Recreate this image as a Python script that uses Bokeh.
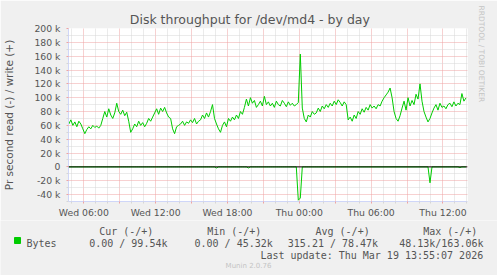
from bokeh.plotting import figure
from bokeh.layouts import column
from bokeh.models import Range1d, FixedTicker, Span, Title
from bokeh.core.properties import value
from bokeh.embed import file_html
from bokeh.resources import INLINE

# ---------------- data (thousands of bytes per second, 10-minute samples) ----------------
start_hour = 4.75          # hours after Wed 00:00
step_hours = 1.0 / 6.0
write_k = [62, 68, 60, 65, 58, 66, 62, 55, 48,
           54, 58, 55, 60, 57, 59, 56, 60,
           70, 80, 72, 84, 75, 70,
           78, 92, 80, 76, 82, 74, 79, 66, 50,
           55, 62, 58, 66, 60, 64, 58, 63, 70, 66,
           72, 78, 84, 76, 85, 80, 86, 78, 72, 70,
           55, 48, 58, 60,
           62, 66, 60, 65, 63, 68, 64, 70, 62, 66, 68,
           75, 70, 78, 72, 80, 90, 70, 62,
           55, 50, 60, 65, 58, 70, 66,
           72, 68, 75, 70, 80, 76, 86,
           98, 88, 100, 92, 96, 86, 90, 95, 88, 102, 90, 94, 88,
           92, 86, 95, 90, 88, 96, 92, 87, 94, 89, 92, 88, 90, 93,
           163,
           85, 70, 65, 75, 72, 80, 76,
           78, 85, 80, 88, 84, 90, 86, 92, 88, 95, 90, 97, 93, 88, 94, 90,
           68, 72, 66,
           75, 70, 80, 76, 84, 79, 86, 82, 90, 85, 88, 84, 90, 88,
           95, 100, 104, 108, 114, 100,
           80, 70, 66, 74,
           85, 95, 82, 100, 88, 96, 90, 105, 98, 120,
           95, 80, 72, 65, 70,
           78, 85, 90, 82, 92, 86, 88, 84, 90, 92, 87, 94, 88, 92, 90,
           106, 95, 99.54]
read_k = ([0] * 74 + [1.5] + [0] * 15 + [1.5] + [0] * 24 + [48.13, 45] + [0] * 64
          + [23] + [0] * 14 + [1] + [0] * 3)
hours = [start_hour + i * step_hours for i in range(len(write_k))]

tick_hours = [6, 12, 18, 24, 30, 36]
tick_labels = ["Wed 06:00", "Wed 12:00", "Wed 18:00", "Thu 00:00", "Thu 06:00", "Thu 12:00"]
ytick_vals = [-40, -20, 0, 20, 40, 60, 80, 100, 120, 140, 160, 180, 200]
ytick_labels = ["-40 k", "-20 k", "0", "20 k", "40 k", "60 k", "80 k", "100 k",
                "120 k", "140 k", "160 k", "180 k", "200 k"]

series_name = "Bytes"
legend_headers = ["Cur (-/+)", "Min (-/+)", "Avg (-/+)", "Max (-/+)"]
legend_values = ["0.00 / 99.54k", "0.00 / 45.32k", "315.21 / 78.47k", "48.13k/163.06k"]
last_update = "Last update: Thu Mar 19 13:55:07 2026"
footer = "Munin 2.0.76"

# ---------------- style ----------------
W = 497
HM = 220          # main figure height
HL = 55           # legend strip height
L, R, T, B = 67, 30, 28, 17
BG = "#f0f0f0"
FONT_C = "#555555"
AXIS_C = "#cfd6f8"
MGRID = "#eea3a3"
GRID = "#d6d6d6"
GREEN = "#00cc00"
SANS = "DejaVu Sans"
MONO = "DejaVu Sans Mono"

p = figure(width=W, height=HM, output_backend="svg", toolbar_location=None,
           x_range=Range1d(4.72, 38.05), y_range=Range1d(-50, 200),
           min_border_left=L, min_border_right=R, min_border_top=T, min_border_bottom=B,
           background_fill_color="white", border_fill_color=BG)
p.outline_line_color = None

p.title.text = "Disk throughput for /dev/md4 - by day"
p.title.align = "left"
p.title.offset = 61.3
p.title.standoff = 3
p.title.text_font = SANS
p.title.text_font_size = "12.5px"
p.title.text_font_style = "normal"
p.title.text_color = FONT_C

p.add_layout(Title(text="RRDTOOL / TOBI OETIKER", align="left", offset=-23, standoff=19,
                   text_font=SANS, text_font_size="7.5px", text_font_style="normal",
                   text_color="#c4c4c4"), "right")

major_x = [h for h in range(3, 39, 3)]
minor_x = [h for h in range(4, 39) if h % 3 != 0]
p.xaxis.ticker = FixedTicker(ticks=major_x, minor_ticks=minor_x)
ov = {h: "" for h in major_x}
for h, t in zip(tick_hours, tick_labels):
    ov[h] = t
p.xaxis.major_label_overrides = ov

minor_y = [v for v in range(-50, 201, 10) if v % 20 != 0]
p.yaxis.ticker = FixedTicker(ticks=ytick_vals, minor_ticks=minor_y)
p.yaxis.major_label_overrides = {v: t for v, t in zip(ytick_vals, ytick_labels)}
p.yaxis.axis_label = "Pr second read (-) / write (+)"
p.yaxis.axis_label_text_font = SANS
p.yaxis.axis_label_text_font_size = "10.5px"
p.yaxis.axis_label_text_font_style = "normal"
p.yaxis.axis_label_text_color = FONT_C
p.yaxis.axis_label_standoff = 16

for ax in (p.xaxis[0], p.yaxis[0]):
    ax.axis_line_color = AXIS_C
    ax.major_tick_line_color = MGRID
    ax.minor_tick_line_color = GRID
    ax.major_tick_in = 0
    ax.major_tick_out = 2
    ax.minor_tick_in = 0
    ax.minor_tick_out = 2
    ax.major_label_text_font = SANS
    ax.major_label_text_font_size = "9.3px"
    ax.major_label_text_color = FONT_C
p.xaxis.major_label_standoff = 3
p.yaxis.major_label_standoff = 6

for g in (p.xgrid[0], p.ygrid[0]):
    g.grid_line_color = MGRID
    g.grid_line_dash = "1 1"
    g.minor_grid_line_color = GRID
    g.minor_grid_line_dash = "1 1"

p.line(hours, write_k, line_color=GREEN, line_width=1)
p.line(hours, [-v for v in read_k], line_color=GREEN, line_width=1)
p.add_layout(Span(location=0, dimension="width", line_color="black", line_width=1))

# ---------------- legend strip (coordinates = pixels of the page) ----------------
q = figure(width=W, height=HL, output_backend="svg", toolbar_location=None,
           x_range=Range1d(0, W), y_range=Range1d(HM + HL, HM),
           min_border=0, min_border_left=0, min_border_right=0,
           min_border_top=0, min_border_bottom=0,
           background_fill_color=BG, border_fill_color=BG)
q.axis.visible = False
q.grid.visible = False
q.outline_line_color = None
for fig in (p, q):
    try:
        fig.frame_align = False
    except Exception:
        pass

q.text(x=[98.7, 206.7, 315.0, 422.7], y=[230.5] * 4, text=legend_headers,
       text_font=value(MONO), text_font_size=value("10px"), text_color=FONT_C,
       text_align="left", text_baseline="alphabetic")
q.text(x=[26.0, 88.7, 194.0, 287.3, 398.7], y=[242.5] * 5,
       text=[series_name] + legend_values,
       text_font=value(MONO), text_font_size=value("10px"), text_color=FONT_C,
       text_align="left", text_baseline="alphabetic")
q.text(x=[482.7], y=[254.5], text=[last_update],
       text_font=value(MONO), text_font_size=value("10px"), text_color=FONT_C,
       text_align="right", text_baseline="alphabetic")
q.text(x=[248.0], y=[265.7], text=[footer],
       text_font=value(SANS), text_font_size=value("7px"), text_color="#c4c4c4",
       text_align="center", text_baseline="alphabetic")
q.scatter(x=[17.0], y=[240.0], marker="square", size=6, fill_color=GREEN, line_color=GREEN)

layout = column(p, q, spacing=0)
open("out.html", "w").write(file_html(layout, INLINE))
